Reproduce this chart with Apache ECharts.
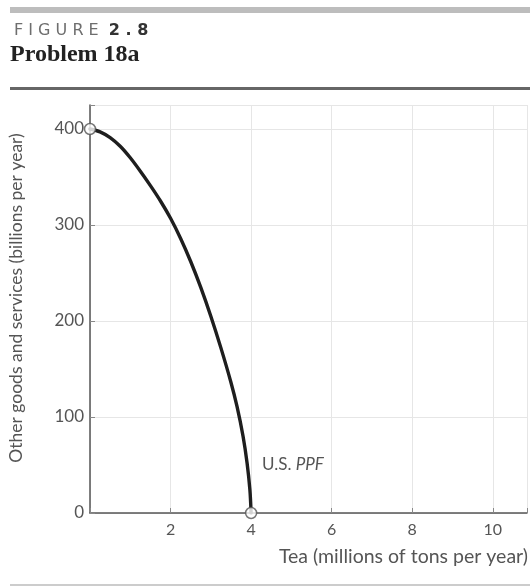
<!DOCTYPE html>
<html>
<head>
<meta charset="utf-8">
<style>html,body{margin:0;padding:0;background:#fff;}#c{width:530px;height:588px;}</style>
<script src="https://cdn.jsdelivr.net/npm/echarts@6/dist/echarts.min.js"></script>
</head>
<body>
<div id="c"></div>
<script>
var tea = [0, 0.25, 0.5, 0.75, 1, 1.25, 1.5, 1.75, 2, 2.25, 2.5, 2.75, 3, 3.25, 3.5, 3.65, 3.8, 3.9, 3.97, 4];
var goods = [400, 397, 391, 382, 370, 356, 341, 325, 307, 286, 262, 235, 205, 172, 136, 111, 80, 52, 24, 0];
var endTea = [0, 4];
var endGoods = [400, 0];
var xTicks = [2, 4, 6, 8, 10];
var yTicks = [0, 100, 200, 300, 400];

var chart = echarts.init(document.getElementById('c'));
var font = 'Lato, "Open Sans", sans-serif';
chart.setOption({
  animation: false,
  grid: {left: 90, right: 0, top: 105, bottom: 75, containLabel: false},
  xAxis: {
    type: 'value', min: 0, max: 10.85, interval: 2,
    axisLine: {show: true, lineStyle: {color: '#555', width: 1.5}},
    axisTick: {show: true, inside: true, length: 5, lineStyle: {color: '#888'}},
    splitLine: {show: true, lineStyle: {color: '#e6e6e6', width: 1}},
    axisLabel: {color: '#555', fontSize: 16, fontFamily: font, margin: 9,
      formatter: function (v) { return xTicks.indexOf(v) >= 0 ? String(v) : ''; }}
  },
  yAxis: {
    type: 'value', min: 0, max: 425, interval: 100,
    axisLine: {show: true, lineStyle: {color: '#555', width: 1.5}},
    axisTick: {show: true, inside: true, length: 5, lineStyle: {color: '#888'}},
    splitLine: {show: true, lineStyle: {color: '#e6e6e6', width: 1}},
    axisLabel: {color: '#555', fontSize: 17, fontFamily: font, margin: 6,
      formatter: function (v) { return yTicks.indexOf(v) >= 0 ? String(v) : ''; }}
  },
  series: [
    {
      type: 'line', smooth: 0.3, symbol: 'none',
      data: tea.map(function (t, i) { return [t, goods[i]]; }),
      lineStyle: {color: '#1e1e1e', width: 3.4, join: 'round', cap: 'round'}
    },
    {
      type: 'scatter', symbol: 'circle', symbolSize: 11,
      data: endTea.map(function (t, i) { return [t, endGoods[i]]; }),
      itemStyle: {color: '#fff', borderColor: '#555', borderWidth: 1.5},
      z: 5
    }
  ],
  graphic: [
    {type: 'rect', shape: {x: 10, y: 7, width: 520, height: 6}, style: {fill: '#bdbdbd'}},
    {type: 'text', x: 14, y: 31, style: {
      text: '{a|F I G U R E  }{b|2 . 8}', textVerticalAlign: 'middle',
      rich: {
        a: {fontFamily: '"DejaVu Sans", sans-serif', fontSize: 16, fill: '#6e6e6e', fontWeight: 'normal'},
        b: {fontFamily: '"DejaVu Sans", sans-serif', fontSize: 16, fill: '#333', fontWeight: 'bold'}
      }}},
    {type: 'text', x: 10, y: 55, style: {
      text: 'Problem 18a', fontFamily: '"Liberation Serif", "DejaVu Serif", serif',
      fontSize: 24, fontWeight: 'bold', fill: '#222', textVerticalAlign: 'middle'}},
    {type: 'rect', shape: {x: 10, y: 87, width: 520, height: 3}, style: {fill: '#666'}},
    {type: 'rect', shape: {x: 10, y: 584, width: 520, height: 2}, style: {fill: '#ccc'}},
    {type: 'text', x: 16, y: 298, rotation: Math.PI / 2, style: {
      text: 'Other goods and services (billions per year)', fontFamily: font,
      fontSize: 17.5, fill: '#555', textAlign: 'center', textVerticalAlign: 'middle'}},
    {type: 'text', x: 528, y: 557, style: {
      text: 'Tea (millions of tons per year)', fontFamily: font,
      fontSize: 19.5, fill: '#555', textAlign: 'right', textVerticalAlign: 'middle'}},
    {type: 'text', x: 262, y: 465, style: {
      text: '{a|U.S. }{b|PPF}', textVerticalAlign: 'middle',
      rich: {
        a: {fontFamily: font, fontSize: 17, fill: '#555'},
        b: {fontFamily: font, fontSize: 17, fill: '#555', fontStyle: 'italic'}
      }}}
  ]
});
</script>
</body>
</html>
